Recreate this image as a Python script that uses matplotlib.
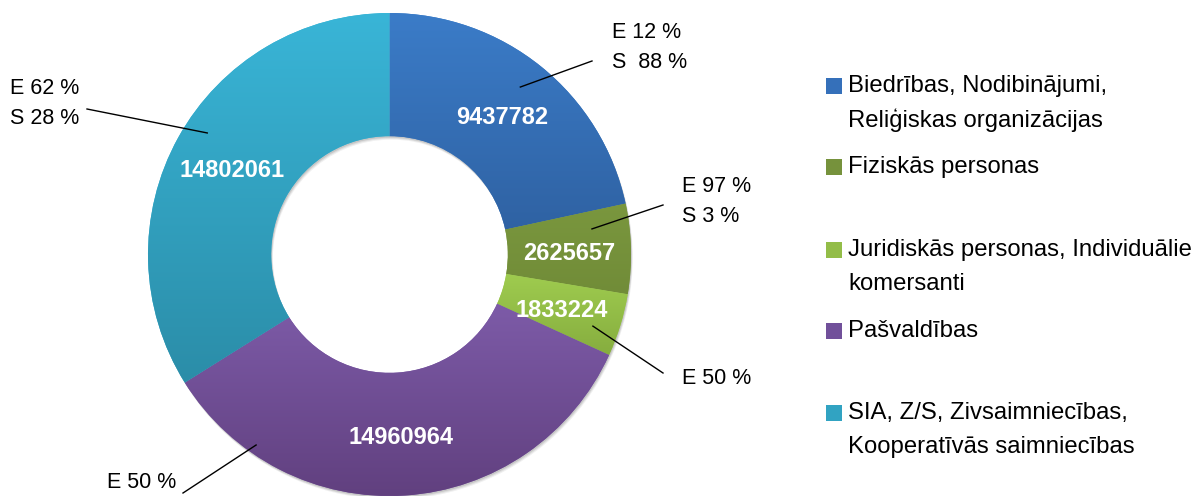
import numpy as np
import matplotlib.pyplot as plt
from matplotlib.colors import LinearSegmentedColormap
from matplotlib.patches import Rectangle, Wedge

plt.rcParams['font.family'] = ['Liberation Sans', 'DejaVu Sans']

categories = ["Biedrības, Nodibinājumi,\nReliģiskas organizācijas",
              "Fiziskās personas",
              "Juridiskās personas, Individuālie\nkomersanti",
              "Pašvaldības",
              "SIA, Z/S, Zivsaimniecības,\nKooperatīvās saimniecības"]
values = [9437782, 2625657, 1833224, 14960964, 14802061]
shares = ["E 12 %\nS  88 %", "E 97 %\nS 3 %", "E 50 %", "E 50 %", "E 62 %\nS 28 %"]

top_colors = ["#3b7cc8", "#7a973e", "#9fcc4f", "#7d5ba8", "#39b5d7"]
bottom_colors = ["#2f62a3", "#718c38", "#86ad3f", "#61407f", "#2b8da8"]
legend_colors = ["#3570ba", "#76923c", "#93bd48", "#71509a", "#31a3c2"]

W, H = 1195, 496
fig = plt.figure(figsize=(W / 100, H / 100), dpi=100)
ax = fig.add_axes([0, 0, 1, 1])

# donut geometry in pixels (y measured from bottom)
cx, cy, R = 389.5, H - 254.5, 241.5
hole = 0.49

# soft shadow under the ring
for k, a in [(3.5, 0.06), (2.5, 0.08), (1.5, 0.1)]:
    ax.add_patch(Wedge((cx + k * 0.5, cy - k), R, 0, 360, width=R * (1 - hole),
                       facecolor='black', alpha=a, linewidth=0, zorder=0))

wedges, _, autotexts = ax.pie(values, startangle=90, counterclock=False, radius=R,
                              center=(cx, cy), colors=top_colors,
                              wedgeprops=dict(width=R * (1 - hole), linewidth=0),
                              autopct='%1.0f', pctdistance=(1 + hole) / 2,
                              textprops=dict(color='white', fontsize=17, fontweight='bold'))
for t, v in zip(autotexts, values):
    t.set_text(str(v))
    t.set_zorder(5)
    x, y = t.get_position()
    t.set_position((x, y - 3))

# vertical gradient on every slice
grad = np.linspace(0, 1, 256).reshape(-1, 1)
for w, c0, c1 in zip(wedges, top_colors, bottom_colors):
    ext = w.get_path().get_extents()
    cmap = LinearSegmentedColormap.from_list('g', [c0, c1])
    im = ax.imshow(grad, cmap=cmap, extent=[ext.x0, ext.x1, ext.y0, ext.y1],
                   origin='upper', aspect='auto', zorder=2)
    im.set_clip_path(w)

# leader lines + share texts
anchor_ang = [52, 7.2, -19.4, -125, 146.3]
anchor_r = [0.88, 0.845, 0.893, 0.963, 0.907]
line_end = [(592, 61), (663, 205), (663, 373), (183, 493), (87, 109)]
text_pos = [(612, 32), (682, 186), (682, 378), (107, 482), (10, 88)]
for a, r, (ex, ey), (tx, ty), s in zip(anchor_ang, anchor_r, line_end, text_pos, shares):
    sx = cx + r * R * np.cos(np.radians(a))
    sy = cy + r * R * np.sin(np.radians(a))
    ax.plot([sx, ex], [sy, H - ey], color='black', lw=1, zorder=6)
    for i, line in enumerate(s.split('\n')):
        ax.text(tx, H - ty - i * 30, line, fontsize=15.5, ha='left', va='center', zorder=6)

# legend drawn by hand (uneven spacing in the original)
leg_y = [86, 167, 250, 331, 413]
for y, lab, c in zip(leg_y, categories, legend_colors):
    ax.add_patch(Rectangle((826, H - y - 8), 16, 16, facecolor=c, edgecolor='none'))
    for i, line in enumerate(lab.split('\n')):
        ax.text(848, H - y - i * 34, line, fontsize=17.2, ha='left', va='center')

ax.set_xlim(0, W)
ax.set_ylim(0, H)
ax.set_aspect('equal')
ax.axis('off')

fig.savefig('out.png', dpi=100, facecolor='white')
